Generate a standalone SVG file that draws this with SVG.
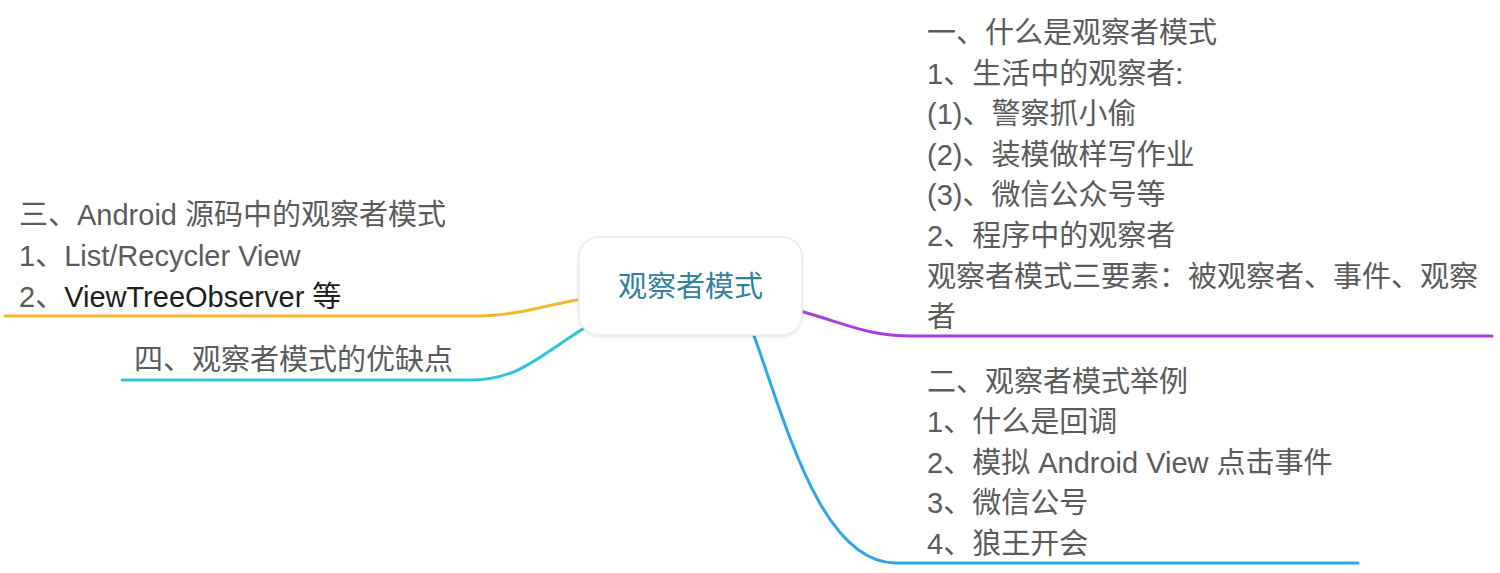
<svg xmlns="http://www.w3.org/2000/svg" width="1500" height="573" viewBox="0 0 1500 573">
<defs>
<style>
.t{font-family:"Liberation Sans","Noto Sans CJK SC",sans-serif;font-size:29px;fill:#5b5b5b;dominant-baseline:central}
.dark{fill:#1e1e1e}
.c{fill:none;stroke-width:3;stroke-linecap:round}
</style>
<filter id="sh" x="-20%" y="-20%" width="140%" height="140%">
<feDropShadow dx="0" dy="1" stdDeviation="1.5" flood-color="#000" flood-opacity="0.12"/>
</filter>
</defs>
<rect width="1500" height="573" fill="#ffffff"/>
<g id="connectors">
<path class="c" stroke="#a83ee6" d="M800 311 C850 325 868 336 912 336 L1492 336"/>
<path class="c" stroke="#2ea6ee" d="M753 333 C785 420 820 562 895 563 L1358 563"/>
<path class="c" stroke="#f4b72b" d="M582 299 C540 306 520 316 470 316 L5 316"/>
<path class="c" stroke="#2dc5d8" d="M586 327 C540 355 520 380 470 380 L122 380"/>
</g>
<g id="center">
<rect x="579" y="237" width="223" height="98" rx="20" ry="20" fill="#ffffff" stroke="#ececec" stroke-width="1.5" filter="url(#sh)"/>
<text class="t" x="690.5" y="287" text-anchor="middle" style="fill:#33819e">观察者模式</text>
</g>
<g id="branch1">
<text class="t" x="927" y="33">一、什么是观察者模式</text>
<text class="t" x="927" y="73.6">1、生活中的观察者:</text>
<text class="t" x="927" y="114.2">(1)、警察抓小偷</text>
<text class="t" x="927" y="154.8">(2)、装模做样写作业</text>
<text class="t" x="927" y="195.4">(3)、微信公众号等</text>
<text class="t" x="927" y="236">2、程序中的观察者</text>
<text class="t" x="927" y="276.6">观察者模式三要素：被观察者、事件、观察</text>
<text class="t" x="927" y="317.2">者</text>
</g>
<g id="branch2">
<text class="t" x="927" y="381.5">二、观察者模式举例</text>
<text class="t" x="927" y="422">1、什么是回调</text>
<text class="t" x="927" y="462.5">2、模拟 Android View 点击事件</text>
<text class="t" x="927" y="503">3、微信公号</text>
<text class="t" x="927" y="543.5">4、狼王开会</text>
</g>
<g id="branch3">
<text class="t" x="19" y="215">三、Android 源码中的观察者模式</text>
<text class="t" x="19" y="256">1、List/Recycler View</text>
<text class="t" x="19" y="296.5">2、<tspan class="dark">ViewTreeObserver 等</tspan></text>
</g>
<g id="branch4">
<text class="t" x="134" y="360">四、观察者模式的优缺点</text>
</g>
</svg>
